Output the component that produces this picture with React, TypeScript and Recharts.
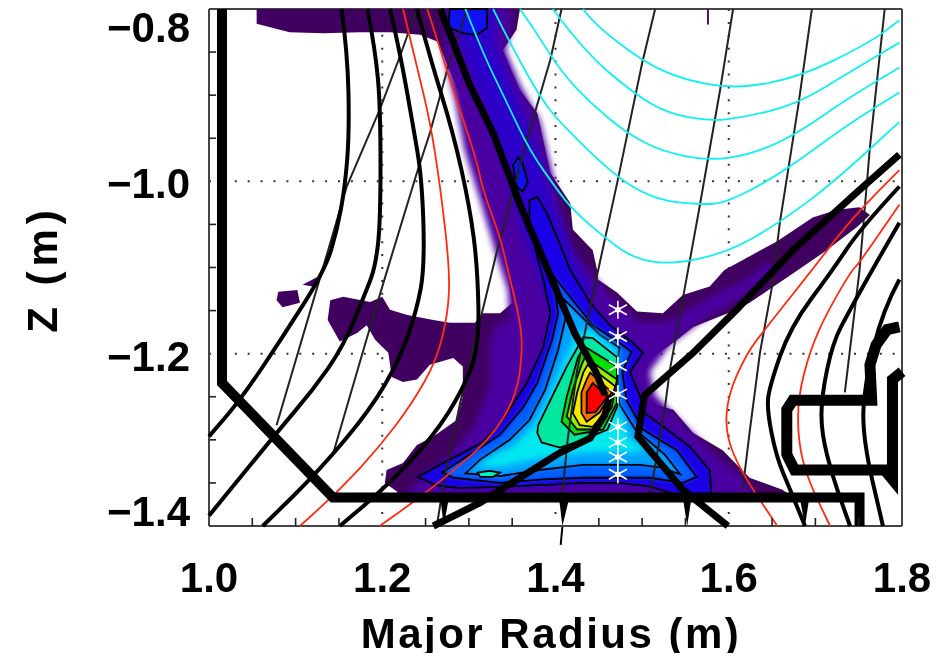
import { CartesianGrid, ReferenceLine, Scatter, ScatterChart, XAxis, YAxis } from 'recharts';

const rTicks = [1, 1.05, 1.1, 1.15, 1.2, 1.25, 1.3, 1.35, 1.4, 1.45, 1.5, 1.55, 1.6, 1.65, 1.7, 1.75, 1.8];
const zTicks = [-1.4, -1.35, -1.3, -1.25, -1.2, -1.15, -1.1, -1.05, -1, -0.95, -0.9, -0.85, -0.8];
const rMajor = [1, 1.2, 1.4, 1.6, 1.8];
const zMajor = [-0.8, -1, -1.2, -1.4];

// outer emission envelope
const emissionOuter = [[1.055,-.8],[1.055,-.817],[1.093,-.827],[1.132,-.828],[1.174,-.827],[1.209,-.827],[1.244,-.83],[1.264,-.838],[1.276,-.867],[1.293,-.906],[1.304,-.932],[1.318,-.979],[1.315,-1.018],[1.324,-1.03],[1.342,-1.047],[1.338,-1.076],[1.344,-1.103],[1.35,-1.141],[1.336,-1.153],[1.316,-1.153],[1.307,-1.164],[1.278,-1.164],[1.259,-1.161],[1.229,-1.155],[1.209,-1.149],[1.2,-1.134],[1.186,-1.14],[1.155,-1.134],[1.14,-1.138],[1.137,-1.161],[1.151,-1.186],[1.171,-1.176],[1.182,-1.167],[1.192,-1.184],[1.207,-1.199],[1.211,-1.227],[1.224,-1.233],[1.24,-1.23],[1.255,-1.213],[1.282,-1.205],[1.293,-1.215],[1.293,-1.25],[1.286,-1.277],[1.259,-1.296],[1.24,-1.306],[1.224,-1.327],[1.205,-1.335],[1.203,-1.35],[1.217,-1.36],[1.217,-1.367],[1.671,-1.364],[1.662,-1.358],[1.624,-1.344],[1.593,-1.312],[1.559,-1.292],[1.536,-1.265],[1.509,-1.257],[1.497,-1.238],[1.509,-1.207],[1.54,-1.184],[1.559,-1.169],[1.609,-1.149],[1.624,-1.141],[1.68,-1.103],[1.713,-1.08],[1.748,-1.053],[1.763,-1.039],[1.751,-1.03],[1.725,-1.033],[1.697,-1.042],[1.655,-1.07],[1.595,-1.103],[1.578,-1.122],[1.547,-1.132],[1.524,-1.153],[1.494,-1.151],[1.471,-1.129],[1.449,-1.114],[1.448,-1.103],[1.443,-1.08],[1.42,-1.056],[1.417,-1.025],[1.394,-.99],[1.379,-.921],[1.359,-.894],[1.339,-.848],[1.355,-.824],[1.359,-.8]];
const blobA = [[1.08,-1.128],[1.102,-1.126],[1.105,-1.141],[1.085,-1.146],[1.078,-1.138]];
const blobB = [[1.108,-1.12],[1.125,-1.111],[1.128,-1.112],[1.12,-1.122]];

// filled levels, low to high
const levelViolet = [[1.272,-.8],[1.35,-.8],[1.35,-.822],[1.342,-.848],[1.359,-.888],[1.382,-.929],[1.405,-1.027],[1.417,-1.074],[1.44,-1.105],[1.465,-1.135],[1.497,-1.163],[1.53,-1.163],[1.567,-1.14],[1.619,-1.114],[1.647,-1.093],[1.653,-1.105],[1.619,-1.132],[1.567,-1.163],[1.532,-1.19],[1.509,-1.221],[1.515,-1.248],[1.549,-1.283],[1.584,-1.317],[1.619,-1.346],[1.63,-1.367],[1.226,-1.367],[1.244,-1.346],[1.278,-1.317],[1.307,-1.283],[1.324,-1.236],[1.324,-1.19],[1.33,-1.167],[1.347,-1.161],[1.345,-1.126],[1.33,-1.08],[1.313,-1.022],[1.295,-.964],[1.284,-.906],[1.272,-.859]];
const levelArm = [[1.279,-.8],[1.334,-.8],[1.329,-.836],[1.352,-.894],[1.376,-.952],[1.396,-1.022],[1.422,-1.091],[1.445,-1.132],[1.417,-1.138],[1.392,-1.138],[1.365,-1.068],[1.342,-.987],[1.318,-.917],[1.295,-.859]];
const levelBlue = [[1.37,-1.022],[1.379,-1.018],[1.39,-1.037],[1.403,-1.068],[1.417,-1.103],[1.44,-1.141],[1.463,-1.167],[1.489,-1.187],[1.501,-1.199],[1.486,-1.221],[1.497,-1.248],[1.503,-1.269],[1.529,-1.288],[1.555,-1.308],[1.578,-1.335],[1.58,-1.365],[1.544,-1.365],[1.509,-1.354],[1.472,-1.35],[1.432,-1.35],[1.394,-1.352],[1.347,-1.354],[1.29,-1.356],[1.263,-1.353],[1.241,-1.343],[1.27,-1.327],[1.316,-1.303],[1.339,-1.277],[1.367,-1.234],[1.386,-1.192],[1.394,-1.153],[1.386,-1.114],[1.374,-1.068],[1.37,-1.053]];
const topLoop = [[1.278,-.8],[1.321,-.8],[1.321,-.822],[1.309,-.83],[1.293,-.828],[1.276,-.821]];
const armLoop = [[1.351,-.981],[1.357,-.972],[1.362,-.979],[1.368,-1.001],[1.362,-1.012],[1.355,-1.006]];
const levelAzure = [[1.397,-1.109],[1.42,-1.138],[1.443,-1.167],[1.469,-1.184],[1.488,-1.198],[1.477,-1.221],[1.482,-1.254],[1.501,-1.288],[1.54,-1.312],[1.563,-1.343],[1.547,-1.35],[1.509,-1.344],[1.472,-1.344],[1.432,-1.344],[1.386,-1.346],[1.336,-1.35],[1.282,-1.344],[1.269,-1.338],[1.301,-1.317],[1.336,-1.294],[1.363,-1.262],[1.379,-1.234],[1.396,-1.184],[1.403,-1.153]];
const levelSky = [[1.411,-1.138],[1.428,-1.155],[1.451,-1.178],[1.474,-1.193],[1.469,-1.225],[1.474,-1.259],[1.492,-1.288],[1.526,-1.317],[1.544,-1.34],[1.521,-1.332],[1.497,-1.329],[1.472,-1.329],[1.432,-1.329],[1.382,-1.335],[1.336,-1.342],[1.296,-1.339],[1.313,-1.323],[1.347,-1.3],[1.37,-1.277],[1.388,-1.242],[1.403,-1.196],[1.411,-1.161]];
const levelCyan = [[1.426,-1.175],[1.44,-1.172],[1.472,-1.198],[1.465,-1.23],[1.472,-1.265],[1.486,-1.3],[1.503,-1.309],[1.497,-1.314],[1.472,-1.314],[1.432,-1.315],[1.382,-1.321],[1.336,-1.331],[1.31,-1.332],[1.324,-1.321],[1.353,-1.306],[1.376,-1.283],[1.391,-1.254],[1.405,-1.219]];
const sideLoop = [[1.31,-1.338],[1.324,-1.336],[1.336,-1.338],[1.328,-1.343],[1.313,-1.343]];
const levelTeal = [[1.38,-1.283],[1.379,-1.292],[1.384,-1.303],[1.405,-1.309],[1.432,-1.3],[1.46,-1.288],[1.471,-1.262],[1.472,-1.215],[1.471,-1.204],[1.443,-1.182],[1.432,-1.181],[1.413,-1.215],[1.396,-1.25]];
const levelGreen = [[1.434,-1.192],[1.471,-1.215],[1.471,-1.257],[1.455,-1.288],[1.422,-1.294],[1.407,-1.279],[1.413,-1.25],[1.426,-1.204]];
const levelLime = [[1.434,-1.204],[1.471,-1.23],[1.465,-1.262],[1.448,-1.288],[1.425,-1.288],[1.413,-1.273],[1.42,-1.242],[1.43,-1.213]];
const levelYellow = [[1.437,-1.213],[1.469,-1.238],[1.46,-1.265],[1.443,-1.285],[1.428,-1.283],[1.42,-1.269],[1.425,-1.245],[1.432,-1.222]];
const levelOrange = [[1.44,-1.222],[1.465,-1.245],[1.451,-1.268],[1.436,-1.279],[1.43,-1.269],[1.43,-1.245],[1.436,-1.23]];
const levelRed = [[1.443,-1.234],[1.46,-1.25],[1.446,-1.268],[1.436,-1.269],[1.436,-1.245]];

// vessel wall and separatrix
const wall = [[1.015,-.8],[1.015,-1.234],[1.143,-1.367],[1.751,-1.367],[1.751,-1.4]];
const limiter = [[1.797,-1.169],[1.783,-1.172],[1.77,-1.19],[1.763,-1.213],[1.765,-1.254],[1.674,-1.254],[1.667,-1.265],[1.667,-1.317],[1.676,-1.335],[1.78,-1.335],[1.789,-1.346],[1.789,-1.23],[1.8,-1.221]];
const sepUpper = [[1.267,-.8],[1.301,-.888],[1.328,-.944],[1.359,-1.027],[1.39,-1.1],[1.422,-1.176],[1.447,-1.222],[1.457,-1.248]];
const sepLeft = [[1.259,-1.4],[1.313,-1.373],[1.351,-1.349],[1.405,-1.315],[1.44,-1.298],[1.457,-1.271],[1.463,-1.248]];
const sepRight = [[1.797,-.969],[1.751,-1.01],[1.674,-1.08],[1.609,-1.149],[1.559,-1.199],[1.503,-1.248],[1.495,-1.296],[1.547,-1.358],[1.599,-1.4]];

// flux surfaces
const fluxA = [[1.153,-.8],[1.16,-.851],[1.162,-.944],[1.157,-1.006],[1.148,-1.056],[1.134,-1.103],[1.085,-1.181],[1.036,-1.254],[1,-1.296]];
const fluxB = [[1.183,-.8],[1.192,-.848],[1.198,-.914],[1.198,-1.048],[1.192,-1.099],[1.182,-1.126],[1.155,-1.192],[1.12,-1.242],[1.078,-1.292],[1,-1.388]];
const fluxC = [[1.209,-.8],[1.22,-.848],[1.235,-.932],[1.246,-.998],[1.249,-1.099],[1.24,-1.149],[1.22,-1.207],[1.186,-1.265],[1.128,-1.335],[1.062,-1.4]];
const fluxD = [[1.24,-.8],[1.255,-.856],[1.282,-.944],[1.301,-1.03],[1.31,-1.099],[1.312,-1.192],[1.293,-1.242],[1.259,-1.296],[1.205,-1.354],[1.151,-1.4]];
const fluxE = [[1.797,-1.006],[1.751,-1.056],[1.72,-1.103],[1.671,-1.169],[1.647,-1.238],[1.644,-1.265],[1.655,-1.32],[1.671,-1.358],[1.688,-1.4]];
const fluxF = [[1.797,-1.048],[1.77,-1.095],[1.74,-1.149],[1.72,-1.187],[1.707,-1.25],[1.707,-1.292],[1.72,-1.343],[1.74,-1.4]];
const fluxG = [[1.797,-1.114],[1.778,-1.149],[1.757,-1.234],[1.754,-1.296],[1.778,-1.4]];

// thin sight lines
const sightA = [[1.298,-.8],[1.276,-.867],[1.255,-.944],[1.24,-.99],[1.207,-1.099],[1.186,-1.169],[1.143,-1.317]];
const sightB = [[1.24,-.8],[1.22,-.856],[1.197,-.917],[1.159,-1.006],[1.132,-1.099],[1.078,-1.283]];
const sightC = [[1.407,-.8],[1.394,-.859],[1.367,-.952],[1.332,-1.083],[1.315,-1.153],[1.29,-1.257],[1.272,-1.343],[1.263,-1.4]];
const sightD = [[1.515,-.8],[1.5,-.863],[1.472,-.998],[1.451,-1.095],[1.44,-1.146],[1.425,-1.219],[1.414,-1.3],[1.407,-1.373]];
const sightE = [[1.605,-.8],[1.59,-.894],[1.565,-1.037],[1.553,-1.103],[1.532,-1.219],[1.526,-1.265],[1.511,-1.354],[1.509,-1.366]];
const sightF = [[1.696,-.8],[1.68,-.914],[1.659,-1.048],[1.65,-1.122],[1.636,-1.199],[1.624,-1.292],[1.616,-1.358]];
const sightG = [[1.78,-.8],[1.763,-.96],[1.751,-1.103],[1.734,-1.245]];

// red surfaces
const redA = [[1.224,-.8],[1.24,-.867],[1.255,-.929],[1.267,-1.006],[1.278,-1.103],[1.276,-1.153],[1.263,-1.207],[1.235,-1.257],[1.197,-1.308],[1.151,-1.358],[1.105,-1.4]];
const redB = [[1.252,-.8],[1.278,-.882],[1.309,-.975],[1.316,-1.01],[1.336,-1.064],[1.345,-1.103],[1.359,-1.161],[1.362,-1.196],[1.355,-1.25],[1.324,-1.3],[1.27,-1.346],[1.228,-1.378],[1.197,-1.4]];
const redC = [[1.797,-.987],[1.778,-1.006],[1.755,-1.03],[1.732,-1.056],[1.696,-1.103],[1.644,-1.169],[1.621,-1.199],[1.599,-1.248],[1.596,-1.292],[1.613,-1.335],[1.656,-1.4]];
const redD = [[1.797,-1.027],[1.751,-1.095],[1.742,-1.103],[1.713,-1.153],[1.694,-1.196],[1.68,-1.25],[1.68,-1.3],[1.69,-1.343],[1.717,-1.4]];

// cyan surfaces
const cyanA = [[1.432,-.8],[1.443,-.816],[1.501,-.861],[1.547,-.882],[1.609,-.893],[1.682,-.879],[1.763,-.839],[1.797,-.813]];
const cyanB = [[1.397,-.8],[1.432,-.848],[1.489,-.897],[1.529,-.921],[1.578,-.93],[1.616,-.926],[1.678,-.911],[1.74,-.873],[1.797,-.839]];
const cyanC = [[1.359,-.8],[1.374,-.821],[1.405,-.871],[1.44,-.909],[1.482,-.944],[1.524,-.966],[1.578,-.976],[1.624,-.969],[1.674,-.948],[1.74,-.902],[1.797,-.868]];
const cyanD = [[1.328,-.8],[1.347,-.839],[1.382,-.902],[1.405,-.932],[1.471,-.996],[1.517,-1.022],[1.567,-1.027],[1.598,-1.025],[1.662,-.99],[1.74,-.932],[1.797,-.897]];
const cyanE = [[1.296,-.8],[1.316,-.851],[1.344,-.909],[1.37,-.964],[1.402,-1.01],[1.42,-1.033],[1.455,-1.064],[1.489,-1.089],[1.532,-1.097],[1.598,-1.083],[1.659,-1.048],[1.72,-1.002],[1.797,-.931]];

// wedges under the wall
const wedgeA = [[1.267,-1.367],[1.277,-1.367],[1.271,-1.4]];
const wedgeB = [[1.404,-1.367],[1.416,-1.367],[1.408,-1.4]];
const wedgeC = [[1.547,-1.367],[1.557,-1.367],[1.552,-1.4]];
const wedgeD = [[1.682,-1.367],[1.693,-1.367],[1.688,-1.4]];
const topSpeck = [[1.576,-.8],[1.576,-.818]];

const markerR = [1.472, 1.472, 1.472, 1.472, 1.472, 1.472, 1.472, 1.472];
const markerZ = [-1.149, -1.18, -1.214, -1.247, -1.285, -1.303, -1.32, -1.34];

type Pt = { x: number; y: number };

const rows = (pts: number[][]) => pts.map(([r, z]) => ({ r, z }));
const noDot = () => null;
const toPath = (pts: Pt[]) => 'M' + pts.map((p) => `${p.x},${p.y}`).join('L');

// rounds the corners by bending through segment midpoints
function toSmoothPath(pts: Pt[]) {
    let d = `M${pts[0].x},${pts[0].y}`;
    for (let i = 1; i < pts.length - 1; i++) {
        const mx = (pts[i].x + pts[i + 1].x) / 2;
        const my = (pts[i].y + pts[i + 1].y) / 2;
        d += `Q${pts[i].x},${pts[i].y} ${mx},${my}`;
    }
    const last = pts[pts.length - 1];
    return d + `L${last.x},${last.y}`;
}

function fillArea(pts: number[][], color: string, blur = 0, outline = false) {
    const draw = (p: { points: Pt[] }) => (
        <g>
            <path d={toPath(p.points) + 'Z'} fill={color} stroke="none" style={blur ? { filter: `blur(${blur}px)` } : undefined} />
            {outline && <path d={toPath(p.points) + 'Z'} fill="none" stroke="#000" strokeWidth={1.8} />}
        </g>
    );
    return <Scatter data={rows(pts)} shape={noDot} line={draw as any} isAnimationActive={false} />;
}

function trace(pts: number[][], color: string, width: number, smooth = false) {
    const draw = (p: { points: Pt[] }) => (
        <path d={smooth ? toSmoothPath(p.points) : toPath(p.points)} fill="none" stroke={color} strokeWidth={width} strokeLinejoin="miter" />
    );
    return <Scatter data={rows(pts)} shape={noDot} line={draw as any} isAnimationActive={false} />;
}

function Asterisk({ cx = 0, cy = 0 }: { cx?: number; cy?: number }) {
    return (
        <g stroke="#fff" strokeWidth={1.6}>
            <line x1={cx} y1={cy - 9} x2={cx} y2={cy + 9} />
            <line x1={cx - 9} y1={cy - 5} x2={cx + 9} y2={cy + 5} />
            <line x1={cx - 9} y1={cy + 5} x2={cx + 9} y2={cy - 5} />
            <circle cx={cx} cy={cy} r={2} fill="#fff" />
        </g>
    );
}

const labelFont = { fontFamily: 'Liberation Sans', fontWeight: 700, fontSize: 42, fill: '#000' };

function BottomTick({ x, y, payload }: any) {
    if (rMajor.includes(payload.value)) {
        return <text x={x} y={y + 66} textAnchor="middle" {...labelFont}>{payload.value.toFixed(1)}</text>;
    }
    return <line x1={x} y1={y} x2={x} y2={y - 8} stroke="#222" strokeWidth={1.6} />;
}

function TopTick({ x, y, payload }: any) {
    if (rMajor.includes(payload.value)) return <g />;
    return <line x1={x} y1={y} x2={x} y2={y + 8} stroke="#222" strokeWidth={1.6} />;
}

function LeftTick({ x, y, payload }: any) {
    if (zMajor.includes(payload.value)) {
        const shift = payload.value === -0.8 ? 18 : payload.value === -1.4 ? -15 : 2;
        return (
            <text x={x - 19} y={y + shift + 15} textAnchor="end" {...labelFont}>
                {'\u2212' + Math.abs(payload.value).toFixed(1)}
            </text>
        );
    }
    return <line x1={x} y1={y} x2={x + 7} y2={y} stroke="#222" strokeWidth={1.6} />;
}

function RightTick({ x, y, payload }: any) {
    if (zMajor.includes(payload.value)) return <g />;
    return <line x1={x} y1={y} x2={x - 12} y2={y} stroke="#222" strokeWidth={1.6} />;
}

export default function App() {
    const markers = markerR.map((r, i) => ({ r, z: markerZ[i] }));
    const frame = { stroke: '#444', strokeWidth: 2 };

    return (
        <div style={{ height: 645, filter: 'blur(0.6px)' }}>
            <ScatterChart width={927} height={653} margin={{ top: 0, right: 0, bottom: 0, left: 0 }}>
                <CartesianGrid
                    horizontal
                    vertical
                    horizontalValues={[-1, -1.2]}
                    verticalValues={[1.2, 1.4, 1.6]}
                    stroke="#333"
                    strokeWidth={2}
                    strokeDasharray="2 10.9"
                />
                <XAxis dataKey="r" type="number" domain={[1, 1.8]} ticks={rTicks} interval={0} height={135} axisLine={frame} tickLine={false} tickSize={0} tickMargin={0} tick={BottomTick} />
                <XAxis xAxisId="top" orientation="top" dataKey="r" type="number" domain={[1, 1.8]} ticks={rTicks} interval={0} height={1} axisLine={frame} tickLine={false} tickSize={0} tickMargin={0} tick={TopTick} />
                <YAxis dataKey="z" type="number" domain={[-1.4, -0.8]} ticks={zTicks} interval={0} width={201} axisLine={frame} tickLine={false} tickSize={0} tickMargin={0} tick={LeftTick} />
                <YAxis yAxisId="right" orientation="right" dataKey="z" type="number" domain={[-1.4, -0.8]} ticks={zTicks} interval={0} width={33} axisLine={frame} tickLine={false} tickSize={0} tickMargin={0} tick={RightTick} />

                {fillArea(emissionOuter, '#3f0060')}
                {fillArea(blobA, '#3f0060')}
                {fillArea(blobB, '#3f0060')}
                {fillArea(levelViolet, '#4a00a0', 3)}
                {fillArea(levelArm, '#2c00c8', 4)}
                {fillArea(levelBlue, '#1a00e6', 2, true)}
                {fillArea(topLoop, '#1010f0', 1, true)}
                {fillArea(armLoop, '#1010f0', 1, true)}
                {fillArea(levelAzure, '#0060ff', 2, true)}
                {fillArea(levelSky, '#00a4ff', 2, true)}
                {fillArea(levelCyan, '#00e8f0', 3)}
                {fillArea(sideLoop, '#00f0c0', 0, true)}
                {fillArea(levelTeal, '#00e8a0', 1, true)}
                {fillArea(levelGreen, '#00e000', 1, true)}
                {fillArea(levelLime, '#98f000', 1, true)}
                {fillArea(levelYellow, '#f8e800', 1, true)}
                {fillArea(levelOrange, '#f87000', 1, true)}
                {fillArea(levelRed, '#ff0000', 0, true)}
                {trace(topSpeck, '#4a1070', 2)}

                {trace(sightA, '#222', 2)}
                {trace(sightB, '#222', 2)}
                {trace(sightC, '#222', 2)}
                {trace(sightD, '#222', 2)}
                {trace(sightE, '#222', 2)}
                {trace(sightF, '#222', 2)}
                {trace(sightG, '#222', 2)}

                {trace(fluxA, '#000', 4, true)}
                {trace(fluxB, '#000', 4, true)}
                {trace(fluxC, '#000', 4, true)}
                {trace(fluxD, '#000', 4, true)}
                {trace(fluxE, '#000', 4, true)}
                {trace(fluxF, '#000', 4, true)}
                {trace(fluxG, '#000', 4, true)}

                {trace(redA, '#ff2a10', 1.8, true)}
                {trace(redB, '#ff2a10', 1.8, true)}
                {trace(redC, '#ff2a10', 1.8, true)}
                {trace(redD, '#ff2a10', 1.8, true)}

                {trace(cyanA, '#10f0f0', 1.8, true)}
                {trace(cyanB, '#10f0f0', 1.8, true)}
                {trace(cyanC, '#10f0f0', 1.8, true)}
                {trace(cyanD, '#10f0f0', 1.8, true)}
                {trace(cyanE, '#10f0f0', 1.8, true)}

                {trace(sepUpper, '#000', 7)}
                {trace(sepLeft, '#000', 7)}
                {trace(sepRight, '#000', 7)}
                {trace(limiter, '#000', 11)}
                {trace(wall, '#000', 10)}
                {fillArea(wedgeA, '#000')}
                {fillArea(wedgeB, '#000')}
                {fillArea(wedgeC, '#000')}
                {fillArea(wedgeD, '#000')}
                <ReferenceLine segment={[{ x: 1.408, y: -1.4 }, { x: 1.406, y: -1.422 }]} ifOverflow="visible" stroke="#000" strokeWidth={2} />

                <Scatter data={markers} shape={<Asterisk />} isAnimationActive={false} />

                <text x={543} y={640} textAnchor="middle" letterSpacing={2.5} {...labelFont}>Major Radius (m)</text>
                <text x={49} y={261} textAnchor="middle" letterSpacing={5} transform="rotate(-90 49 261)" {...labelFont}>Z (m)</text>
            </ScatterChart>
        </div>
    );
}
